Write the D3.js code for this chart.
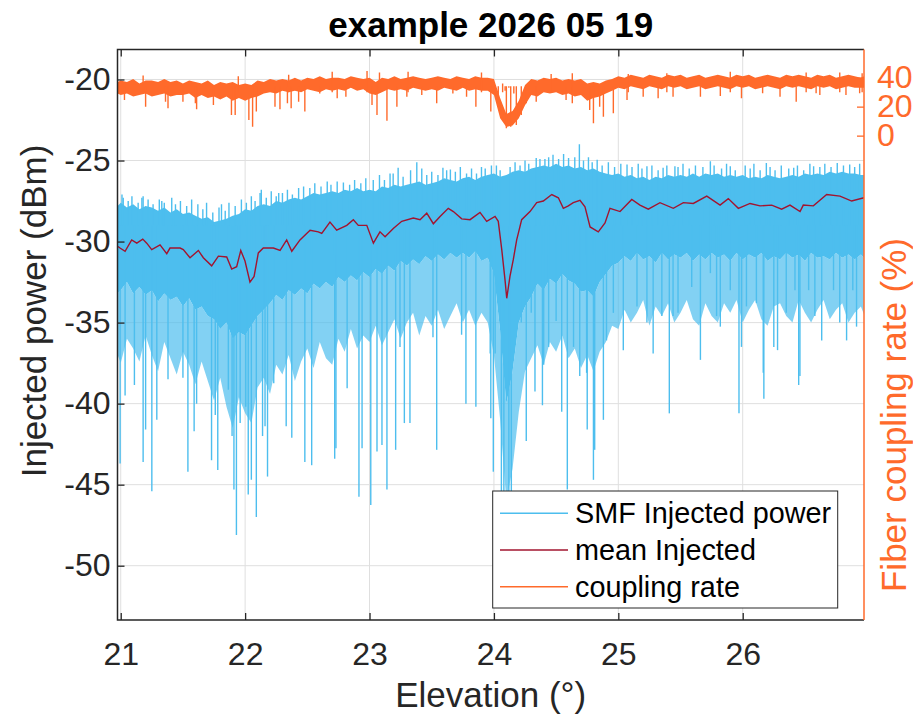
<!DOCTYPE html>
<html>
<head>
<meta charset="utf-8">
<script src="https://cdn.jsdelivr.net/npm/d3@7"></script>
<style>
    body { margin: 0; background: #fff; }
    #chart-area { width: 913px; height: 716px; }
    text { font-family: "Liberation Sans", Arial, Helvetica, sans-serif; }
</style>
</head>
<body>
<div id="chart-area"></div>
<script>

// elevation grid (deg) for the sampled envelopes
const bandElev = [20.975,
    21.00, 21.05, 21.10, 21.15, 21.20, 21.25, 21.30, 21.35, 21.40, 21.45, 21.50, 21.55, 21.60, 21.65, 21.70, 21.75, 21.80, 21.85, 21.90, 21.95,
    22.00, 22.05, 22.10, 22.15, 22.20, 22.25, 22.30, 22.35, 22.40, 22.45, 22.50, 22.55, 22.60, 22.65, 22.70, 22.75, 22.80, 22.85, 22.90, 22.95,
    23.00, 23.05, 23.10, 23.15, 23.20, 23.25, 23.30, 23.35, 23.40, 23.45, 23.50, 23.55, 23.60, 23.65, 23.70, 23.75, 23.80, 23.85, 23.90, 23.95,
    24.00, 24.05, 24.10, 24.15, 24.20, 24.25, 24.30, 24.35, 24.40, 24.45, 24.50, 24.55, 24.60, 24.65, 24.70, 24.75, 24.80, 24.85, 24.90, 24.95,
    25.00, 25.05, 25.10, 25.15, 25.20, 25.25, 25.30, 25.35, 25.40, 25.45, 25.50, 25.55, 25.60, 25.65, 25.70, 25.75, 25.80, 25.85, 25.90, 25.95,
    26.00, 26.05, 26.10, 26.15, 26.20, 26.25, 26.30, 26.35, 26.40, 26.45, 26.50, 26.55, 26.60, 26.65, 26.70, 26.75, 26.80, 26.85, 26.90, 26.95,
    26.975];

// SMF injected power (dBm): top of the dense band
const bandTop = [-27.8,
    -27.6, -27.9, -27.7, -28.0, -27.8, -27.9, -28.1, -27.9, -28.2, -28.0, -28.3, -28.2, -28.4, -28.6, -28.5, -28.8, -28.7, -28.6, -28.4, -28.3,
    -28.0, -28.1, -27.8, -27.7, -27.8, -27.5, -27.6, -27.4, -27.3, -27.4, -27.2, -27.0, -27.1, -27.0, -26.9, -27.0, -26.8, -26.9, -26.7, -26.9,
    -26.8, -26.9, -26.6, -26.7, -26.5, -26.6, -26.5, -26.4, -26.3, -26.5, -26.4, -26.3, -26.1, -26.2, -26.3, -26.1, -26.0, -26.2, -26.0, -25.9,
    -25.8, -26.0, -25.9, -25.7, -25.6, -25.7, -25.5, -25.4, -25.3, -25.4, -25.2, -25.4, -25.3, -25.5, -25.4, -25.6, -25.5, -25.7, -25.8, -25.9,
    -25.8, -26.0, -25.9, -26.1, -26.0, -26.2, -26.0, -26.1, -25.9, -26.0, -25.9, -26.0, -25.8, -26.0, -25.8, -25.9, -25.8, -26.0, -25.9, -26.0,
    -25.9, -26.1, -26.0, -26.1, -25.9, -26.0, -26.1, -26.0, -25.9, -26.0, -25.8, -25.9, -25.8, -25.9, -25.7, -25.8, -25.7, -25.8, -25.8, -25.9,
    -25.9];

// bottom of the solid part of the band
const bandBottom = [-33.2,
    -33.0, -32.5, -33.2, -32.8, -33.3, -33.0, -33.7, -33.2, -33.6, -33.4, -34.0, -33.5, -34.2, -34.0, -34.6, -34.8, -35.4, -35.0, -36.0, -35.6,
    -35.8, -35.2, -34.6, -34.2, -33.8, -33.3, -33.6, -33.0, -33.3, -32.9, -33.2, -32.6, -32.9, -32.5, -32.8, -32.2, -32.5, -32.1, -32.4, -31.9,
    -32.2, -31.7, -32.0, -31.5, -31.8, -31.2, -31.5, -31.1, -31.4, -30.9, -31.2, -30.8, -31.1, -30.7, -31.0, -30.7, -31.0, -30.6, -31.2, -31.0,
    -32.0, -35.5, -40.0, -38.0, -35.0, -34.0, -33.4, -32.6, -33.0, -32.3, -32.6, -32.0, -32.4, -32.6, -33.1, -33.0, -33.4, -32.5, -32.0, -31.5,
    -31.3, -30.9, -31.2, -30.7, -31.1, -30.9, -31.3, -30.7, -31.1, -30.8, -31.0, -30.7, -31.2, -30.8, -31.1, -30.7, -31.0, -30.8, -31.2, -30.7,
    -31.1, -30.8, -31.0, -30.7, -31.2, -30.9, -31.1, -30.7, -31.0, -30.8, -31.2, -30.7, -31.0, -30.9, -31.1, -30.7, -31.0, -30.8, -31.1, -30.8,
    -31.0];

// where most of the downward hairlines end
const bandFringe = [-37.0,
    -37.5, -36.0, -36.6, -37.4, -35.8, -37.0, -38.0, -36.2, -37.2, -38.2, -36.8, -37.6, -38.8, -37.4, -38.6, -39.8, -38.4, -40.2, -41.5, -39.6,
    -40.6, -41.2, -39.0, -38.4, -39.4, -37.6, -38.2, -37.0, -38.6, -37.4, -36.6, -37.8, -36.2, -37.2, -37.6, -36.0, -36.8, -35.4, -36.6, -35.8,
    -36.2, -35.2, -36.4, -35.6, -34.8, -36.0, -35.0, -34.4, -35.8, -34.6, -35.2, -34.2, -35.4, -34.6, -33.8, -35.0, -34.2, -35.2, -34.4, -35.0,
    -37.0, -41.0, -46.0, -44.0, -40.5, -38.0, -37.2, -36.4, -37.6, -36.2, -36.8, -35.8, -37.2, -36.6, -37.8, -37.0, -38.0, -36.8, -36.2, -35.2,
    -35.4, -34.2, -35.0, -34.4, -33.6, -35.2, -34.0, -34.6, -33.8, -35.0, -34.4, -33.6, -34.8, -35.2, -33.8, -34.6, -35.0, -33.8, -34.4, -33.6,
    -35.0, -34.2, -33.6, -34.8, -35.2, -34.0, -33.8, -34.6, -35.0, -33.6, -34.4, -35.0, -34.2, -33.6, -34.8, -34.2, -33.8, -35.0, -34.4, -34.0,
    -34.5];

// single samples that stick out of the band [elevation, dBm]
const peakSpikes = [[21.01, -27.1], [21.02, -27.3], [21.06, -27.5], [21.09, -27.2], [21.14, -27.6], [21.17, -27.3], [21.18, -27.2],
    [21.22, -27.4], [21.26, -27.7], [21.31, -27.4], [21.33, -27.5], [21.35, -27.6], [21.41, -27.3], [21.44, -27.7], [21.48, -27.5],
    [21.53, -27.8], [21.57, -27.4], [21.62, -27.7], [21.66, -28.0], [21.69, -27.6], [21.74, -28.2], [21.79, -27.9], [21.81, -27.7],
    [21.84, -28.1], [21.87, -27.6], [21.92, -27.8], [21.97, -27.4], [22.01, -27.6], [22.05, -27.2], [22.08, -27.5], [22.12, -27.0],
    [22.13, -26.8], [22.17, -27.3], [22.21, -26.9], [22.25, -27.2], [22.27, -27.0], [22.3, -27.0], [22.34, -26.8], [22.38, -27.1],
    [22.43, -26.7], [22.47, -26.6], [22.52, -26.7], [22.56, -26.4], [22.61, -26.6], [22.66, -26.3], [22.69, -26.5], [22.74, -26.3],
    [22.79, -26.35], [22.84, -26.5], [22.88, -26.2], [22.93, -26.4], [22.97, -26.1], [23.03, -26.2], [23.08, -25.9], [23.12, -26.2],
    [23.165, -25.8], [23.19, -25.8], [23.23, -25.45], [23.27, -26.0], [23.33, -25.6], [23.38, -25.1], [23.42, -25.5], [23.46, -25.9],
    [23.5, -25.7], [23.55, -25.9], [23.59, -25.45], [23.62, -25.6], [23.65, -25.55], [23.69, -25.7], [23.73, -25.4], [23.78, -25.8],
    [23.82, -25.5], [23.86, -25.8], [23.9, -25.4], [23.93, -25.5], [23.98, -25.3], [24.02, -25.3], [24.05, -25.6], [24.13, -25.4],
    [24.17, -25.1], [24.21, -25.3], [24.25, -25.0], [24.28, -25.2], [24.34, -24.85], [24.37, -24.9], [24.41, -24.9], [24.44, -24.8],
    [24.475, -24.65], [24.52, -24.9], [24.56, -24.6], [24.6, -24.85], [24.65, -24.8], [24.687, -24.0], [24.72, -25.0], [24.76, -24.8],
    [24.79, -25.1], [24.83, -24.95], [24.87, -25.3], [24.92, -25.1], [24.97, -25.4], [25.02, -25.2], [25.07, -25.25], [25.11, -25.4],
    [25.16, -25.2], [25.19, -25.5], [25.23, -25.35], [25.27, -25.3], [25.32, -25.6], [25.36, -25.45], [25.39, -25.3], [25.455, -25.35],
    [25.48, -25.4], [25.52, -25.2], [25.57, -25.5], [25.62, -25.3], [25.68, -25.4], [25.74, -25.05], [25.77, -25.3], [25.83, -25.5],
    [25.87, -25.2], [25.9, -25.35], [25.94, -25.6], [26.02, -25.3], [26.06, -25.5], [26.09, -25.2], [26.14, -25.6], [26.19, -25.15],
    [26.22, -25.4], [26.26, -25.6], [26.31, -25.3], [26.37, -25.5], [26.41, -25.45], [26.44, -25.3], [26.49, -25.6], [26.54, -25.2],
    [26.57, -25.35], [26.62, -25.4], [26.66, -25.2], [26.71, -25.4], [26.76, -25.15], [26.81, -25.3], [26.86, -25.25], [26.9, -25.4],
    [26.94, -25.2]];

const dipSpikes = [[20.995, -43.7], [21.035, -39.5], [21.11, -38.85], [21.18, -43.6], [21.2, -41.6], [21.25, -45.4], [21.29, -41.0],
    [21.38, -38.5], [21.5, -38.4], [21.54, -44.2], [21.59, -41.7], [21.61, -40.0], [21.73, -43.5], [21.76, -40.7], [21.78, -44.1],
    [21.865, -39.15], [21.895, -42.0], [21.91, -45.3], [21.93, -48.1], [21.96, -41.2], [22.005, -40.2], [22.025, -45.6], [22.05, -44.7],
    [22.09, -47.0], [22.14, -42.0], [22.16, -41.4], [22.18, -44.5], [22.23, -38.75], [22.33, -41.4], [22.375, -42.1], [22.48, -43.6],
    [22.535, -43.8], [22.72, -43.4], [22.73, -42.75], [22.82, -39.05], [22.915, -45.75], [22.94, -42.75], [23.01, -46.25], [23.06, -42.95],
    [23.1, -42.55], [23.14, -45.3], [23.21, -42.85], [23.245, -36.5], [23.28, -41.2], [23.325, -41.2], [23.51, -35.9], [23.54, -42.85],
    [23.74, -35.75], [23.775, -40.0], [23.855, -40.2], [23.97, -36.9], [23.975, -40.9], [23.995, -44.2], [24.01, -36.9], [24.06, -47.5],
    [24.08, -49.0], [24.12, -48.5], [24.14, -47.0], [24.22, -35.0], [24.26, -42.3], [24.3, -34.4], [24.33, -39.25], [24.39, -40.1],
    [24.4, -37.6], [24.44, -36.5], [24.5, -34.9], [24.545, -40.5], [24.59, -45.3], [24.64, -36.5], [24.69, -38.3], [24.745, -38.1],
    [24.75, -41.6], [24.8, -44.7], [24.81, -42.85], [24.88, -41.0], [24.905, -36.1], [24.96, -34.4], [25.04, -36.7], [25.15, -34.0],
    [25.23, -35.0], [25.28, -36.9], [25.35, -34.6], [25.41, -40.6], [25.44, -34.6], [25.48, -34.4], [25.59, -32.8], [25.66, -37.3],
    [25.74, -31.95], [25.79, -34.6], [25.82, -35.25], [25.9, -33.0], [25.97, -40.6], [25.99, -36.5], [26.03, -34.0], [26.11, -33.8],
    [26.165, -38.1], [26.17, -39.7], [26.25, -36.5], [26.28, -36.7], [26.35, -34.4], [26.42, -33.0], [26.45, -38.85], [26.46, -38.3],
    [26.53, -33.0], [26.58, -34.6], [26.635, -36.1], [26.73, -33.0], [26.78, -35.0], [26.835, -36.1], [26.885, -33.0], [26.915, -35.25]];

// running mean of the injected power (dBm)
const meanElev = [20.978, 20.994, 21.035, 21.088, 21.129, 21.177, 21.209, 21.249, 21.316, 21.370, 21.396, 21.477, 21.503, 21.557,
    21.624, 21.664, 21.731, 21.785, 21.852, 21.892, 21.932, 21.965, 21.999, 22.039, 22.072, 22.106, 22.146, 22.227, 22.281, 22.334,
    22.375, 22.441, 22.522, 22.588, 22.616, 22.682, 22.736, 22.817, 22.870, 22.910, 22.978, 23.031, 23.084, 23.125, 23.191, 23.259,
    23.352, 23.406, 23.460, 23.513, 23.567, 23.633, 23.674, 23.741, 23.808, 23.888, 23.942, 24.009, 24.035, 24.063, 24.089, 24.103,
    24.129, 24.156, 24.183, 24.196, 24.223, 24.290, 24.344, 24.397, 24.465, 24.518, 24.558, 24.598, 24.638, 24.692, 24.732, 24.773,
    24.839, 24.893, 24.933, 25.014, 25.108, 25.174, 25.241, 25.335, 25.442, 25.523, 25.603, 25.711, 25.818, 25.884, 25.965, 26.059,
    26.139, 26.233, 26.313, 26.380, 26.461, 26.487, 26.568, 26.675, 26.782, 26.876, 26.975];
const meanPower = [-30.3, -30.4, -30.6, -29.9, -30.1, -29.85, -30.1, -30.5, -30.2, -30.75, -30.4, -30.4, -30.5, -31.0,
    -30.55, -31.0, -31.5, -30.9, -30.95, -31.7, -31.55, -30.55, -31.2, -32.5, -32.15, -30.7, -30.4, -30.4, -30.55, -29.9,
    -30.6, -29.9, -29.3, -29.4, -29.5, -28.8, -29.3, -29.0, -28.65, -29.0, -29.0, -30.1, -29.4, -29.7, -29.2, -28.75,
    -28.55, -28.65, -28.25, -28.9, -28.45, -27.95, -28.15, -28.6, -28.65, -28.2, -28.75, -28.45, -28.75, -30.5, -32.35, -33.5,
    -32.15, -31.1, -29.9, -29.5, -28.65, -28.15, -27.6, -27.5, -27.1, -27.3, -27.95, -27.8, -27.6, -27.45, -27.85, -29.1,
    -29.4, -28.85, -27.95, -28.15, -27.4, -27.75, -28.0, -27.6, -27.95, -27.6, -27.65, -27.2, -27.75, -27.35, -27.95, -27.65,
    -27.8, -27.75, -28.0, -27.75, -28.15, -27.75, -27.8, -27.1, -27.2, -27.5, -27.3];

// fiber coupling rate (%): band top / bottom on the same grid
const couplingTop = [37,
    38, 37, 39, 36, 38, 38, 37, 39, 37, 38, 36, 38, 37, 36, 38, 35, 37, 36, 37, 35,
    36, 35, 38, 37, 39, 38, 39, 38, 40, 38, 40, 39, 41, 39, 40, 40, 39, 41, 40, 39,
    40, 37, 40, 39, 41, 39, 40, 41, 40, 39, 40, 41, 40, 39, 41, 40, 39, 41, 40, 40,
    39, 26, 15, 17, 24, 35, 39, 38, 40, 39, 40, 38, 39, 38, 39, 36, 37, 36, 38, 39,
    41, 40, 42, 41, 40, 42, 41, 40, 42, 41, 42, 40, 41, 42, 40, 41, 42, 41, 40, 42,
    41, 42, 40, 41, 42, 41, 40, 42, 41, 42, 41, 40, 42, 41, 42, 40, 41, 42, 41, 40,
    41];
const couplingBottom = [29,
    28, 29, 27, 28, 29, 27, 28, 29, 27, 28, 28, 29, 26, 28, 26, 27, 25, 27, 24, 26,
    24, 26, 27, 29, 30, 29, 31, 30, 31, 30, 32, 31, 30, 32, 31, 32, 31, 33, 31, 32,
    29, 28, 30, 32, 31, 32, 31, 33, 32, 31, 32, 31, 33, 32, 31, 33, 31, 32, 31, 31,
    28, 12, 6, 7, 12, 21, 28, 27, 30, 29, 30, 28, 29, 27, 28, 24, 26, 27, 29, 31,
    33, 32, 34, 33, 32, 34, 33, 32, 34, 33, 34, 32, 33, 34, 32, 33, 34, 33, 32, 34,
    33, 34, 32, 33, 34, 33, 32, 34, 33, 34, 33, 32, 34, 33, 34, 32, 33, 34, 33, 33,
    33];

// single coupling samples outside the band [elevation, %]
const couplingSpikes = [[21.18, 41.5], [21.945, 41.0], [22.35, 42.0], [22.7, 44.0], [22.98, 44.5], [23.08, 43.5], [23.31, 44.0],
    [23.9, 43.5], [24.46, 42.5], [24.63, 43.0], [25.08, 42.5], [25.39, 43.0], [25.9, 44.0], [26.51, 43.5], [26.78, 43.5], [26.96, 43.0],
    [24.07, 36.0], [24.09, 31.0], [24.12, 33.0], [24.16, 29.0], [24.19, 34.0],
    [21.03, 24.6], [21.2, 20.0], [21.38, 18.9], [21.36, 23.4], [21.5, 23.4], [21.61, 18.2], [21.6, 22.3], [21.745, 21.2], [21.89, 14.3],
    [21.92, 14.3], [22.03, 10.8], [22.06, 6.2], [22.09, 16.6], [22.24, 20.0], [22.28, 18.2], [22.37, 18.9], [22.34, 22.3], [22.43, 23.4],
    [22.48, 16.6], [22.6, 29.0], [22.74, 25.8], [22.81, 26.9], [23.02, 21.2], [23.06, 14.3], [23.14, 10.3], [23.22, 20.0], [23.3, 26.9],
    [23.42, 28.0], [23.54, 22.3], [23.67, 29.0], [23.78, 26.9], [23.855, 20.0], [23.975, 16.6], [24.035, 22.3], [24.1, 5.1], [24.135, 6.2],
    [24.18, 7.4], [24.22, 14.3], [24.26, 22.3], [24.34, 23.4], [24.58, 24.6], [24.63, 22.3], [24.77, 17.7], [24.8, 8.5], [24.85, 20.0],
    [24.88, 13.1], [24.96, 15.4], [25.07, 24.6], [25.2, 26.9], [25.32, 25.8], [25.44, 26.9], [25.66, 26.9], [25.82, 27.4], [25.99, 25.8],
    [26.16, 29.2], [26.3, 26.9], [26.43, 23.4], [26.62, 28.0], [26.59, 29.2], [26.83, 28.0], [26.94, 29.2]];

// axis ticks and labels
const elevTicks = [21, 22, 23, 24, 25, 26];
const powerTicks = [-50, -45, -40, -35, -30, -25, -20];
const couplingTicks = [0, 20, 40];
const legendLabels = ["SMF Injected power", "mean Injected", "coupling rate"];


class InjectionVis {

    constructor(_parentElement) {
        this.parentElement = _parentElement;
        this.initVis();
    }

    initVis() {
        let vis = this;

        vis.width = 913;
        vis.height = 716;
        vis.box = {left: 117.5, right: 864, top: 49.5, bottom: 620};

        vis.colors = {smf: "#4DBEEE", mean: "#A2142F", coupling: "#FF6A2B", axis: "#262626", grid: "#dfdfdf"};

        vis.svg = d3.select("#" + vis.parentElement)
            .append("svg")
            .attr("width", vis.width)
            .attr("height", vis.height);

        // scales
        vis.x = d3.scaleLinear().domain([20.974, 26.975]).range([vis.box.left, vis.box.right]);
        vis.yL = d3.scaleLinear().domain([-53.35, -18.15]).range([vis.box.bottom, vis.box.top]);
        vis.yR = d3.scaleLinear().domain([-334, 59.4]).range([vis.box.bottom, vis.box.top]);

        vis.svg.append("clipPath").attr("id", "plot-clip")
            .append("rect")
            .attr("x", vis.box.left).attr("y", vis.box.top)
            .attr("width", vis.box.right - vis.box.left)
            .attr("height", vis.box.bottom - vis.box.top);

        vis.wrangleData();
    }

    wrangleData() {
        let vis = this;

        vis.bandData = bandElev.map((e, i) => ({
            e: e, top: bandTop[i], bottom: bandBottom[i], fringe: bandFringe[i],
            cTop: couplingTop[i], cBottom: couplingBottom[i]
        }));
        vis.meanData = meanElev.map((e, i) => ({e: e, v: meanPower[i]}));

        vis.updateVis();
    }

    updateVis() {
        let vis = this;
        let b = vis.box;

        // grid
        let grid = vis.svg.append("g").attr("class", "grid");
        grid.selectAll(".gx").data(elevTicks).enter().append("line")
            .attr("x1", d => vis.x(d)).attr("x2", d => vis.x(d))
            .attr("y1", b.top).attr("y2", b.bottom)
            .attr("stroke", vis.colors.grid).attr("stroke-width", 1);
        grid.selectAll(".gy").data(powerTicks).enter().append("line")
            .attr("x1", b.left).attr("x2", b.right)
            .attr("y1", d => vis.yL(d)).attr("y2", d => vis.yL(d))
            .attr("stroke", vis.colors.grid).attr("stroke-width", 1);

        let plot = vis.svg.append("g").attr("clip-path", "url(#plot-clip)");

        // smf injected power band
        let fringeArea = d3.area()
            .x(d => vis.x(d.e)).y0(d => vis.yL(d.fringe)).y1(d => vis.yL(d.bottom));
        let bandArea = d3.area()
            .x(d => vis.x(d.e)).y0(d => vis.yL(d.bottom)).y1(d => vis.yL(d.top));

        plot.append("path").datum(vis.bandData)
            .attr("d", fringeArea)
            .attr("fill", vis.colors.smf).attr("fill-opacity", 0.7);
        plot.append("path").datum(vis.bandData)
            .attr("d", bandArea)
            .attr("fill", vis.colors.smf);

        plot.selectAll(".spike").data(dipSpikes.concat(peakSpikes)).enter().append("line")
            .attr("x1", d => vis.x(d[0])).attr("x2", d => vis.x(d[0]))
            .attr("y1", vis.yL(-29)).attr("y2", d => vis.yL(d[1]))
            .attr("stroke", vis.colors.smf).attr("stroke-width", 1.4);

        // mean line
        let meanLine = d3.line().x(d => vis.x(d.e)).y(d => vis.yL(d.v));
        plot.append("path").datum(vis.meanData)
            .attr("d", meanLine)
            .attr("fill", "none")
            .attr("stroke", vis.colors.mean).attr("stroke-width", 1.4);

        // coupling rate (right axis)
        let couplingArea = d3.area()
            .x(d => vis.x(d.e)).y0(d => vis.yR(d.cBottom)).y1(d => vis.yR(d.cTop));
        plot.append("path").datum(vis.bandData)
            .attr("d", couplingArea)
            .attr("fill", vis.colors.coupling);
        plot.selectAll(".cspike").data(couplingSpikes).enter().append("line")
            .attr("x1", d => vis.x(d[0])).attr("x2", d => vis.x(d[0]))
            .attr("y1", d => vis.yR(d[1] > 34 ? 30 : 34)).attr("y2", d => vis.yR(d[1]))
            .attr("stroke", vis.colors.coupling).attr("stroke-width", 1.4);

        // axes
        let styleAxis = (g, color, size) => {
            g.select(".domain").remove();
            g.selectAll("line").attr("stroke", color).attr("stroke-width", 1.3);
            g.selectAll("text").attr("fill", color).style("font-size", size + "px");
        };

        vis.svg.append("g")
            .attr("transform", `translate(${b.left},0)`)
            .call(d3.axisLeft(vis.yL).tickValues(powerTicks).tickSize(-7).tickPadding(7).tickFormat(d => String(d)))
            .call(g => styleAxis(g, vis.colors.axis, 32));

        vis.svg.append("g")
            .attr("transform", `translate(0,${b.bottom})`)
            .call(d3.axisBottom(vis.x).tickValues(elevTicks).tickSize(-7).tickPadding(22).tickFormat(d => String(d)))
            .call(g => styleAxis(g, vis.colors.axis, 32));

        vis.svg.append("g")
            .attr("transform", `translate(0,${b.top})`)
            .call(d3.axisTop(vis.x).tickValues(elevTicks).tickSize(-7).tickFormat(""))
            .call(g => styleAxis(g, vis.colors.axis, 32));

        vis.svg.append("g")
            .attr("transform", `translate(${b.right},0)`)
            .call(d3.axisRight(vis.yR).tickValues(couplingTicks).tickSize(-7).tickPadding(13).tickFormat(d => String(d)))
            .call(g => styleAxis(g, vis.colors.coupling, 32));

        // axes box
        vis.svg.append("path")
            .attr("d", `M${b.right},${b.top}H${b.left}V${b.bottom}H${b.right}`)
            .attr("fill", "none").attr("stroke", vis.colors.axis).attr("stroke-width", 1.5);
        vis.svg.append("line")
            .attr("x1", b.right).attr("x2", b.right).attr("y1", b.top).attr("y2", b.bottom)
            .attr("stroke", vis.colors.coupling).attr("stroke-width", 1.5);

        // titles
        vis.svg.append("text")
            .attr("x", (b.left + b.right) / 2).attr("y", 37)
            .attr("text-anchor", "middle")
            .style("font-size", "35px").style("font-weight", "bold")
            .attr("fill", "#000")
            .text("example 2026 05 19");

        vis.svg.append("text")
            .attr("x", (b.left + b.right) / 2).attr("y", 707)
            .attr("text-anchor", "middle")
            .style("font-size", "35px")
            .attr("fill", vis.colors.axis)
            .text("Elevation (°)");

        vis.svg.append("text")
            .attr("transform", "translate(46,311) rotate(-90)")
            .attr("text-anchor", "middle")
            .style("font-size", "35px")
            .attr("fill", vis.colors.axis)
            .text("Injected power (dBm)");

        vis.svg.append("text")
            .attr("transform", "translate(906,415) rotate(-90)")
            .attr("text-anchor", "middle")
            .style("font-size", "35px")
            .attr("fill", vis.colors.coupling)
            .text("Fiber coupling rate (%)");

        // legend
        let legend = vis.svg.append("g").attr("class", "legend");
        legend.append("rect")
            .attr("x", 492.7).attr("y", 491)
            .attr("width", 345).attr("height", 117)
            .attr("fill", "#fff").attr("stroke", vis.colors.axis).attr("stroke-width", 1);

        let legendColors = [vis.colors.smf, vis.colors.mean, vis.colors.coupling];
        let rows = legend.selectAll(".row").data(legendLabels).enter().append("g")
            .attr("transform", (d, i) => `translate(0,${513.3 + i * 36.7})`);
        rows.append("line")
            .attr("x1", 500).attr("x2", 568).attr("y1", 0).attr("y2", 0)
            .attr("stroke", (d, i) => legendColors[i]).attr("stroke-width", 1.4);
        rows.append("text")
            .attr("x", 575).attr("y", 0).attr("dy", "0.35em")
            .style("font-size", "28.8px")
            .attr("fill", "#000")
            .text(d => d);
    }
}

new InjectionVis("chart-area");

</script>
</body>
</html>
